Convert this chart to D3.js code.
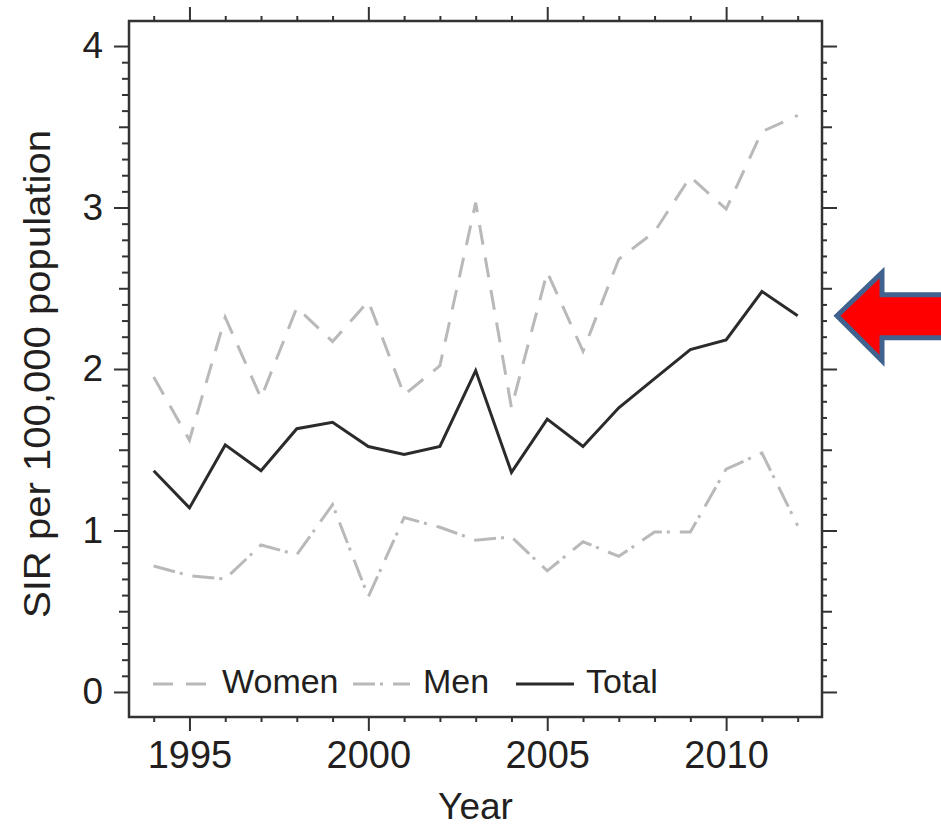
<!DOCTYPE html>
<html>
<head>
<meta charset="utf-8">
<script src="https://cdn.jsdelivr.net/npm/d3@7"></script>
<style>
  html, body { margin: 0; padding: 0; background: #fff; }
  svg { display: block; font-family: "Liberation Sans", Arial, Helvetica, sans-serif; }
</style>
</head>
<body>
<svg id="chart" width="941" height="827"></svg>
<script>
// ---- data ----
const years = [1994, 1995, 1996, 1997, 1998, 1999, 2000, 2001, 2002, 2003, 2004, 2005, 2006, 2007, 2008, 2009, 2010, 2011, 2012];
const women = [1.95, 1.56, 2.32, 1.82, 2.38, 2.17, 2.42, 1.84, 2.02, 3.03, 1.76, 2.60, 2.11, 2.68, 2.85, 3.19, 2.99, 3.47, 3.57];
const men   = [0.78, 0.72, 0.70, 0.91, 0.85, 1.16, 0.59, 1.08, 1.02, 0.94, 0.96, 0.75, 0.93, 0.84, 0.99, 0.99, 1.38, 1.48, 1.03];
const total = [1.37, 1.14, 1.53, 1.37, 1.63, 1.67, 1.52, 1.47, 1.52, 1.99, 1.36, 1.69, 1.52, 1.76, 1.94, 2.12, 2.18, 2.48, 2.33];
const xTickLabels = [1995, 2000, 2005, 2010];
const yTickLabels = [0, 1, 2, 3, 4];
const seriesNames = ["Women", "Men", "Total"];
const xTitle = "Year";
const yTitle = "SIR per 100,000 population";

// ---- layout ----
const svg = d3.select("#chart");
const L = 129, R = 822, T = 21, B = 717;
const x = d3.scaleLinear().domain([1993.31, 2012.68]).range([L, R]);
const y = d3.scaleLinear().domain([-0.155, 4.155]).range([B, T]);

const ink = "#231f20";
const axisCol = "#333";
const grey = "#b9b9b9";

const styles = {
  Women: { color: grey, dash: "20,13", width: 3 },
  Men:   { color: grey, dash: "22,5,3,10", width: 3 },
  Total: { color: "#2b2b2b", dash: null, width: 3 }
};

// ---- axes / ticks ----
const tenths = d3.range(0, 41).map(d => d / 10).filter(d => d % 1 !== 0 && Math.round(d * 10) % 5 !== 0);
const halves = [0.5, 1.5, 2.5, 3.5];
const minorYears = years.filter(v => v % 5 !== 0);

function styleAxis(g) {
  g.select(".domain").remove();
  g.selectAll(".tick line").attr("stroke", axisCol).attr("stroke-width", 2);
  g.selectAll("text").attr("fill", ink);
}

// left
svg.append("g").attr("transform", `translate(${L},0)`)
  .call(d3.axisLeft(y).tickValues(yTickLabels).tickSize(15).tickPadding(11).tickFormat(d3.format("d")))
  .call(styleAxis).call(g => g.selectAll("text").attr("font-size", 37));
svg.append("g").attr("transform", `translate(${L},0)`)
  .call(d3.axisLeft(y).tickValues(halves).tickSize(10).tickFormat("")).call(styleAxis);
svg.append("g").attr("transform", `translate(${L},0)`)
  .call(d3.axisLeft(y).tickValues(tenths).tickSize(7).tickFormat("")).call(styleAxis);
// right
svg.append("g").attr("transform", `translate(${R},0)`)
  .call(d3.axisRight(y).tickValues(yTickLabels).tickSize(15).tickFormat("")).call(styleAxis);
svg.append("g").attr("transform", `translate(${R},0)`)
  .call(d3.axisRight(y).tickValues(halves).tickSize(10).tickFormat("")).call(styleAxis);
svg.append("g").attr("transform", `translate(${R},0)`)
  .call(d3.axisRight(y).tickValues(tenths).tickSize(5).tickFormat("")).call(styleAxis);
// bottom
svg.append("g").attr("transform", `translate(0,${B})`)
  .call(d3.axisBottom(x).tickValues(xTickLabels).tickSize(14).tickPadding(10).tickFormat(d3.format("d")))
  .call(styleAxis).call(g => g.selectAll("text").attr("font-size", 38));
svg.append("g").attr("transform", `translate(0,${B})`)
  .call(d3.axisBottom(x).tickValues(minorYears).tickSize(5).tickFormat("")).call(styleAxis);
// top
svg.append("g").attr("transform", `translate(0,${T})`)
  .call(d3.axisTop(x).tickValues(xTickLabels).tickSize(14).tickFormat("")).call(styleAxis);
svg.append("g").attr("transform", `translate(0,${T})`)
  .call(d3.axisTop(x).tickValues(minorYears).tickSize(5).tickFormat("")).call(styleAxis);

// frame
svg.append("rect").attr("x", L).attr("y", T).attr("width", R - L).attr("height", B - T)
  .attr("fill", "none").attr("stroke", axisCol).attr("stroke-width", 2.5);

// ---- lines ----
const line = d3.line().x(d => x(d[0])).y(d => y(d[1]));
const series = { Women: women, Men: men, Total: total };
seriesNames.forEach(name => {
  const s = styles[name];
  svg.append("path")
    .datum(years.map((yr, i) => [yr, series[name][i]]))
    .attr("d", line)
    .attr("fill", "none")
    .attr("stroke", s.color)
    .attr("stroke-width", s.width)
    .attr("stroke-dasharray", s.dash)
    .attr("stroke-linejoin", "miter");
});

// ---- legend ----
const legendY = 684;
const legendItems = [
  { name: "Women", x0: 153, x1: 208, tx: 222 },
  { name: "Men",   x0: 353, x1: 410, tx: 423 },
  { name: "Total", x0: 516, x1: 574, tx: 586 }
];
legendItems.forEach(it => {
  const s = styles[it.name];
  svg.append("line").attr("x1", it.x0).attr("x2", it.x1).attr("y1", legendY).attr("y2", legendY)
    .attr("stroke", s.color).attr("stroke-width", s.width).attr("stroke-dasharray", s.dash);
  svg.append("text").attr("x", it.tx).attr("y", legendY + 9).attr("font-size", 34)
    .attr("fill", ink).text(it.name);
});

// ---- titles ----
svg.append("text").attr("x", (L + R) / 2).attr("y", 819).attr("text-anchor", "middle")
  .attr("font-size", 37).attr("fill", ink).text(xTitle);
svg.append("text").attr("transform", `translate(50,374) rotate(-90)`).attr("text-anchor", "middle")
  .attr("font-size", 37).attr("textLength", 488).attr("lengthAdjust", "spacingAndGlyphs")
  .attr("fill", ink).text(yTitle);

// ---- annotation arrow pointing at the latest total value ----
const tipY = y(total[total.length - 1]);
const tipX = 837;
const arrow = d3.path();
arrow.moveTo(tipX, tipY);
arrow.lineTo(tipX + 45, tipY - 43);
arrow.lineTo(tipX + 45, tipY - 21);
arrow.lineTo(950, tipY - 21);
arrow.lineTo(950, tipY + 22);
arrow.lineTo(tipX + 45, tipY + 22);
arrow.lineTo(tipX + 45, tipY + 45);
arrow.closePath();
svg.append("path").attr("d", arrow.toString())
  .attr("fill", "#ff0000").attr("stroke", "#41618e").attr("stroke-width", 5).attr("stroke-linejoin", "miter");
</script>
</body>
</html>
